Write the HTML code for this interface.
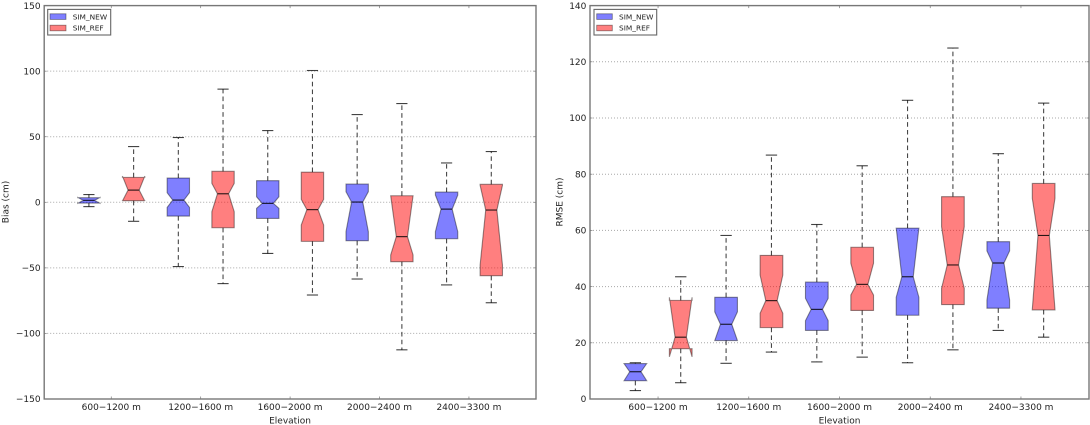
<!DOCTYPE html>
<html lang="en">
<head>
<meta charset="utf-8">
<title>Bias and RMSE by elevation</title>
<style>
html,body{margin:0;padding:0;background:#fff;width:1090px;height:425px;overflow:hidden}
svg{display:block;filter:blur(0.3px)}
text{font-family:"DejaVu Sans","Liberation Sans",sans-serif;fill:#222}
.tick{font-size:9px}
.title{font-size:9px}
.leg{font-size:7.4px}
</style>
</head>
<body>
<svg id="chart" width="1090" height="425" viewBox="0 0 1090 425" xmlns="http://www.w3.org/2000/svg">
  <rect x="0" y="0" width="1090" height="425" fill="#fff"/>
  <g id="panel-bias"></g>
  <g id="panel-rmse"></g>
  <text class="title" x="290" y="423.5" text-anchor="middle">Elevation</text>
  <text class="title" x="839.5" y="423.5" text-anchor="middle">Elevation</text>
  <text class="title" transform="translate(8.5,202) rotate(-90)" text-anchor="middle">Bias (cm)</text>
  <text class="title" transform="translate(562.5,202) rotate(-90)" text-anchor="middle">RMSE (cm)</text>
  <g>
    <rect x="47.7" y="9.4" width="63" height="25.6" fill="#fff" stroke="#666" stroke-width="1.1"/>
    <rect x="50" y="13.8" width="16" height="5.6" fill="#0000ff" fill-opacity=".5" stroke="#000" stroke-opacity=".45" stroke-width=".8"/>
    <text class="leg" x="72.7" y="19.3">SIM_NEW</text>
    <rect x="50" y="25.2" width="16" height="5.6" fill="#ff0000" fill-opacity=".5" stroke="#000" stroke-opacity=".45" stroke-width=".8"/>
    <text class="leg" x="72.7" y="30.7">SIM_REF</text>
  </g>
  <g>
    <rect x="594" y="9.4" width="62.7" height="25.6" fill="#fff" stroke="#666" stroke-width="1.1"/>
    <rect x="596.7" y="13.8" width="15.6" height="5.6" fill="#0000ff" fill-opacity=".5" stroke="#000" stroke-opacity=".45" stroke-width=".8"/>
    <text class="leg" x="619" y="19.3">SIM_NEW</text>
    <rect x="596.7" y="25.2" width="15.6" height="5.6" fill="#ff0000" fill-opacity=".5" stroke="#000" stroke-opacity=".45" stroke-width=".8"/>
    <text class="leg" x="619" y="30.7">SIM_REF</text>
  </g>
</svg>
<script>
// Shared categories; each elevation band has a SIM_NEW box then a SIM_REF box.
var categories = ["600\u22121200 m", "1200\u22121600 m", "1600\u22122000 m", "2000\u22122400 m", "2400\u22123300 m"];
var seriesNames = ["SIM_NEW", "SIM_REF"];

// Bias panel (cm), ten boxes in order NEW, REF, NEW, REF ...
var biasTicks = [-150, -100, -50, 0, 50, 100, 150];
var biasWhiskerHigh = [5.9, 42.5, 49.4, 86.3, 54.7, 100.5, 66.9, 75.3, 30, 38.7];
var biasQ3 = [3.5, 19, 18.5, 23.6, 16.5, 23, 13.9, 5, 7.8, 13.7];
var biasNotchHigh = [3.7, 20, 7.3, 14.4, 4.2, 2.2, 8.1, 5, 5.5, 13];
var biasMedian = [1.5, 9.3, 1.7, 6.5, -0.8, -5.6, 0.2, -26.2, -5.2, -5.9];
var biasNotchLow = [-0.8, 1, -3.9, -7.2, -4.6, -17.3, -22.4, -40.2, -22.4, -47.8];
var biasQ1 = [-0.6, 1.2, -10.5, -19.4, -12.3, -29.8, -29.3, -45.3, -27.8, -56];
var biasWhiskerLow = [-3.3, -14.5, -49, -62, -39, -70.7, -58.5, -112.5, -63, -76.6];

// RMSE panel (cm)
var rmseTicks = [0, 20, 40, 60, 80, 100, 120, 140];
var rmseWhiskerHigh = [12.9, 43.5, 58.2, 86.8, 62.1, 83, 106.3, 124.9, 87.3, 105.3];
var rmseQ3 = [12.6, 35.1, 36.2, 51.1, 41.6, 54, 60.8, 72, 56, 76.7];
var rmseNotchHigh = [12.6, 36.2, 31, 44.1, 35.8, 48.3, 60.8, 61.3, 52.7, 71.4];
var rmseMedian = [9.7, 22, 26.6, 35, 31.9, 40.8, 43.5, 47.7, 48.4, 58.2];
var rmseNotchLow = [6.5, 15, 20.8, 30.5, 27.9, 37, 36.2, 39.4, 35.2, 31.9];
var rmseQ1 = [6.5, 17.9, 20.8, 25.4, 24.4, 31.5, 29.8, 33.6, 32.3, 31.7];
var rmseWhiskerLow = [3, 5.8, 12.7, 16.7, 13.2, 14.9, 12.9, 17.5, 24.4, 22];

var NS = 'http://www.w3.org/2000/svg';

function make(parent, tag, attrs) {
  var el = document.createElementNS(NS, tag);
  for (var k in attrs) el.setAttribute(k, attrs[k]);
  parent.appendChild(el);
  return el;
}

function drawPanel(panel) {
  var root = document.getElementById(panel.id);
  var left = panel.left, right = panel.right, top = 5.6, bottom = 399;
  var yMin = panel.ticks[0], yMax = panel.ticks[panel.ticks.length - 1];
  function x(v) { return left + v / 11 * (right - left); }
  function y(v) { return bottom - (v - yMin) / (yMax - yMin) * (bottom - top); }

  panel.ticks.forEach(function (t) {
    var py = y(t);
    if (t !== yMin && t !== yMax) {
      var grid = make(root, 'line', {x1: left, x2: right, y1: py, y2: py, stroke: '#a8a8a8', 'stroke-width': 1, 'stroke-dasharray': '1 2'});
      
      
    }
    var tl = make(root, 'line', {x1: left, x2: left + 2.5, y1: py, y2: py, stroke: '#777', 'stroke-width': 0.7});
    
    
    var tr = make(root, 'line', {x1: right - 2.5, x2: right, y1: py, y2: py, stroke: '#777', 'stroke-width': 0.7});
    
    
    var lab = make(root, 'text', {x: left - 3.6, y: py + 3.2, 'text-anchor': 'end', 'class': 'tick'});
    lab.textContent = String(t).replace('-', '\u2212');
    
    
  });

  categories.forEach(function (name, i) {
    var px = x(1.5 + i * 2);
    var tb = make(root, 'line', {x1: px, x2: px, y1: bottom - 2.5, y2: bottom, stroke: '#777', 'stroke-width': 0.7});
    
    
    var tt = make(root, 'line', {x1: px, x2: px, y1: top, y2: top + 2.5, stroke: '#777', 'stroke-width': 0.7});
    
    
    var lab = make(root, 'text', {x: px, y: 410, 'text-anchor': 'middle', 'class': 'tick'});
    lab.textContent = name;
    
    
  });

  panel.median.forEach(function (med, i) {
    var pos = i + 1;
    var isRef = i % 2 === 1;
    var g = make(root, 'g', {});
    
    
    var wStyle = {stroke: '#000', 'stroke-opacity': 0.72, 'stroke-width': 1.1, 'stroke-dasharray': '4.6 3.2'};
    var capStyle = {stroke: '#000', 'stroke-opacity': 0.75, 'stroke-width': 1.1};

    var up = make(g, 'line', Object.assign({x1: x(pos), x2: x(pos), y1: y(panel.q3[i]), y2: y(panel.whiskerHigh[i])}, wStyle));
    
    
    var down = make(g, 'line', Object.assign({x1: x(pos), x2: x(pos), y1: y(panel.q1[i]), y2: y(panel.whiskerLow[i])}, wStyle));
    
    
    var capHi = make(g, 'line', Object.assign({x1: x(pos - 0.125), x2: x(pos + 0.125), y1: y(panel.whiskerHigh[i]), y2: y(panel.whiskerHigh[i])}, capStyle));
    
    
    var capLo = make(g, 'line', Object.assign({x1: x(pos - 0.125), x2: x(pos + 0.125), y1: y(panel.whiskerLow[i]), y2: y(panel.whiskerLow[i])}, capStyle));
    
    

    var xl = x(pos - 0.25), xr = x(pos + 0.25), wl = x(pos - 0.125), wr = x(pos + 0.125);
    var d = 'M' + xl + ' ' + y(panel.q1[i]) +
      'L' + xl + ' ' + y(panel.notchLow[i]) +
      'L' + wl + ' ' + y(med) +
      'L' + xl + ' ' + y(panel.notchHigh[i]) +
      'L' + xl + ' ' + y(panel.q3[i]) +
      'L' + xr + ' ' + y(panel.q3[i]) +
      'L' + xr + ' ' + y(panel.notchHigh[i]) +
      'L' + wr + ' ' + y(med) +
      'L' + xr + ' ' + y(panel.notchLow[i]) +
      'L' + xr + ' ' + y(panel.q1[i]) + 'Z';
    var box = make(g, 'path', {d: d, fill: isRef ? '#ff0000' : '#0000ff', 'fill-opacity': 0.5, stroke: '#000', 'stroke-opacity': 0.42, 'stroke-width': 1.1});
    
    
    var ml = make(g, 'line', {x1: wl, x2: wr, y1: y(med), y2: y(med), stroke: '#000', 'stroke-opacity': 0.85, 'stroke-width': 1.1});
    
    
  });

  var frame = make(root, 'rect', {x: left, y: top, width: right - left, height: bottom - top, fill: 'none', stroke: '#777', 'stroke-width': 1.4});
  
  
}

drawPanel({id: 'panel-bias', key: 'bias', left: 44.2, right: 536, ticks: biasTicks,
  whiskerHigh: biasWhiskerHigh, q3: biasQ3, notchHigh: biasNotchHigh, median: biasMedian,
  notchLow: biasNotchLow, q1: biasQ1, whiskerLow: biasWhiskerLow});
drawPanel({id: 'panel-rmse', key: 'rmse', left: 590, right: 1089, ticks: rmseTicks,
  whiskerHigh: rmseWhiskerHigh, q3: rmseQ3, notchHigh: rmseNotchHigh, median: rmseMedian,
  notchLow: rmseNotchLow, q1: rmseQ1, whiskerLow: rmseWhiskerLow});
</script>
</body>
</html>
